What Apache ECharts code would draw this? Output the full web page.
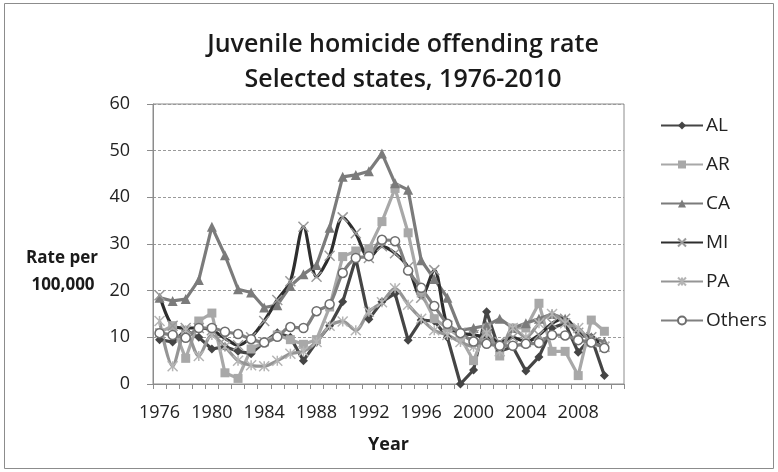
<!DOCTYPE html>
<html>
<head>
<meta charset="utf-8">
<script src="https://cdn.jsdelivr.net/npm/echarts@6/dist/echarts.min.js"></script>
<style>
  html, body { margin: 0; padding: 0; background: #fff; }
  #chart { width: 778px; height: 472px; }
</style>
</head>
<body>
<div id="chart"></div>
<script>
// Years on the category axis (one trailing empty slot after 2010)
const years = [];
for (let y = 1976; y <= 2011; y++) years.push(String(y));

// Juvenile homicide offending rate per 100,000, 1976-2010
const AL = [9.5, 9, 11.5, 10, 7.5, 8, 7, 6.5, 9, 11, 10, 5, 9, 12.5, 17.6, 26.9, 13.9, 17.6, 19.4, 9.4, 13.7, 13.5, 10, 0, 3, 15.5, 7, 8, 2.8, 5.8, 12, 13, 6.8, 10, 1.8];
const AR = [11, 12.5, 5.5, 13.5, 15.2, 2.4, 1.2, 7.5, 9, 10.5, 9.5, 8.5, 9.5, 16.5, 27.3, 28.5, 29, 34.8, 41.9, 32.4, 19.5, 14, 12, 10, 5, 12, 6, 12, 12, 17.3, 7, 7, 1.8, 13.7, 11.3];
const CA = [18.5, 17.8, 18.2, 22.3, 33.7, 27.6, 20.3, 19.6, 16.4, 16.9, 21, 23.5, 25.5, 33.5, 44.4, 44.8, 45.6, 49.4, 43, 41.6, 26.5, 22.5, 18.5, 11.5, 12, 12.5, 14, 12, 13, 14, 15, 14, 10.5, 10, 9];
const MI = [19, 12.5, 12, 12, 11.5, 9.8, 8.3, 10, 13.5, 18, 22, 33.7, 23, 27.5, 35.7, 32.3, 27, 29.5, 28, 25, 18.5, 24.4, 12.5, 11, 10.5, 10, 9, 10, 9, 10.5, 13, 14, 11, 10, 8];
const PA = [13.5, 3.8, 11.5, 6, 10.5, 8, 5, 4, 3.8, 5, 6.5, 7, 9, 12.5, 13.4, 11.5, 15.5, 17.5, 20.5, 17, 14, 11.5, 10.5, 9, 8, 11, 7, 12, 10, 13, 15, 13, 12, 9, 8];
const Others = [10.9, 10.5, 9.9, 12, 12, 11.2, 10.7, 9.6, 8.9, 10.1, 12.2, 12, 15.6, 17.1, 23.8, 27, 27.4, 30.9, 30.6, 24.3, 20.6, 16.7, 12.9, 10.9, 9.1, 8.6, 8.2, 8.2, 8.6, 8.8, 10.5, 10.4, 9.4, 8.9, 7.7];

const FONT = 'Open Sans';
const X_SYMBOL = 'path://M0 0L10 10M10 0L0 10';
const STAR_SYMBOL = 'path://M5 0L5 10M0 0L10 10M10 0L0 10';

function lineSeries(name, data, color, symbol, size, smooth, extra) {
  return Object.assign({
    name: name,
    type: 'line',
    data: data,
    smooth: smooth ? 0.3 : false,
    symbol: symbol,
    symbolSize: size,
    showAllSymbol: true,
    lineStyle: { color: color, width: 3.2 },
    itemStyle: { color: color },
    emphasis: { disabled: true },
    z: 3
  }, extra || {});
}

const chart = echarts.init(document.getElementById('chart'), null, { renderer: 'canvas' });
chart.setOption({
  animation: false,
  backgroundColor: '#ffffff',
  title: {
    text: 'Juvenile homicide offending rate\nSelected states, 1976-2010',
    left: 398,
    textAlign: 'center',
    top: 22,
    textStyle: { fontFamily: FONT, fontSize: 25, fontWeight: 600, color: '#1a1a1a', lineHeight: 35 }
  },
  graphic: [
    { type: 'rect', shape: { x: 4.5, y: 3.5, width: 769, height: 465 }, style: { fill: 'none', stroke: '#8c8c8c', lineWidth: 1 }, silent: true },
    { type: 'text', style: { x: 62, y: 258, text: 'Rate per', fontFamily: FONT, fontSize: 17, fontWeight: 'bold', fill: '#1a1a1a', align: 'center', verticalAlign: 'middle' }, silent: true },
    { type: 'text', style: { x: 63, y: 285, text: '100,000', fontFamily: FONT, fontSize: 17, fontWeight: 'bold', fill: '#1a1a1a', align: 'center', verticalAlign: 'middle' }, silent: true }
  ],
  legend: {
    orient: 'vertical',
    left: 655,
    top: 111,
    itemWidth: 42,
    itemHeight: 10,
    itemGap: 20,
    textStyle: { fontFamily: FONT, fontSize: 19, color: '#222', padding: [0, 0, 0, -2] },
    data: ['AL', 'AR', 'CA', 'MI', 'PA', 'Others']
  },
  grid: {
    left: 153, right: 154, top: 104, bottom: 88,
    show: true, borderColor: '#8c8c8c', borderWidth: 1, backgroundColor: 'transparent'
  },
  xAxis: {
    type: 'category',
    data: years,
    boundaryGap: true,
    name: 'Year',
    nameLocation: 'middle',
    nameGap: 52,
    nameTextStyle: { fontFamily: FONT, fontSize: 18, fontWeight: 'bold', color: '#1a1a1a' },
    axisLine: { lineStyle: { color: '#8c8c8c', width: 1 } },
    axisTick: { show: true, interval: 0, length: 5, lineStyle: { color: '#8c8c8c' } },
    axisLabel: { interval: 3, fontFamily: FONT, fontSize: 18, color: '#222', margin: 20 },
    splitLine: { show: false }
  },
  yAxis: {
    type: 'value',
    min: 0, max: 60, interval: 10,
    axisLine: { show: true, lineStyle: { color: '#8c8c8c', width: 1 } },
    axisTick: { show: true, length: 6, lineStyle: { color: '#8c8c8c' } },
    axisLabel: { fontFamily: FONT, fontSize: 18, color: '#222', margin: 23 },
    splitLine: { show: true, lineStyle: { color: '#9a9a9a', type: [3, 2], width: 1 } }
  },
  series: [
    lineSeries('AL', AL, '#454545', 'diamond', 9, false),
    lineSeries('AR', AR, '#a8a8a8', 'rect', 9, false),
    lineSeries('CA', CA, '#7b7b7b', 'triangle', 10, false),
    lineSeries('MI', MI, '#2e2e2e', X_SYMBOL, 10, true, {
      itemStyle: { color: 'none', borderColor: '#9a9a9a', borderWidth: 1.5 }
    }),
    lineSeries('PA', PA, '#959595', STAR_SYMBOL, 10, true, {
      itemStyle: { color: 'none', borderColor: '#b5b5b5', borderWidth: 1.5 }
    }),
    lineSeries('Others', Others, '#808080', 'circle', 9, true, {
      itemStyle: { color: '#ffffff', borderColor: '#6e6e6e', borderWidth: 1.5 }
    })
  ]
});
</script>
</body>
</html>
